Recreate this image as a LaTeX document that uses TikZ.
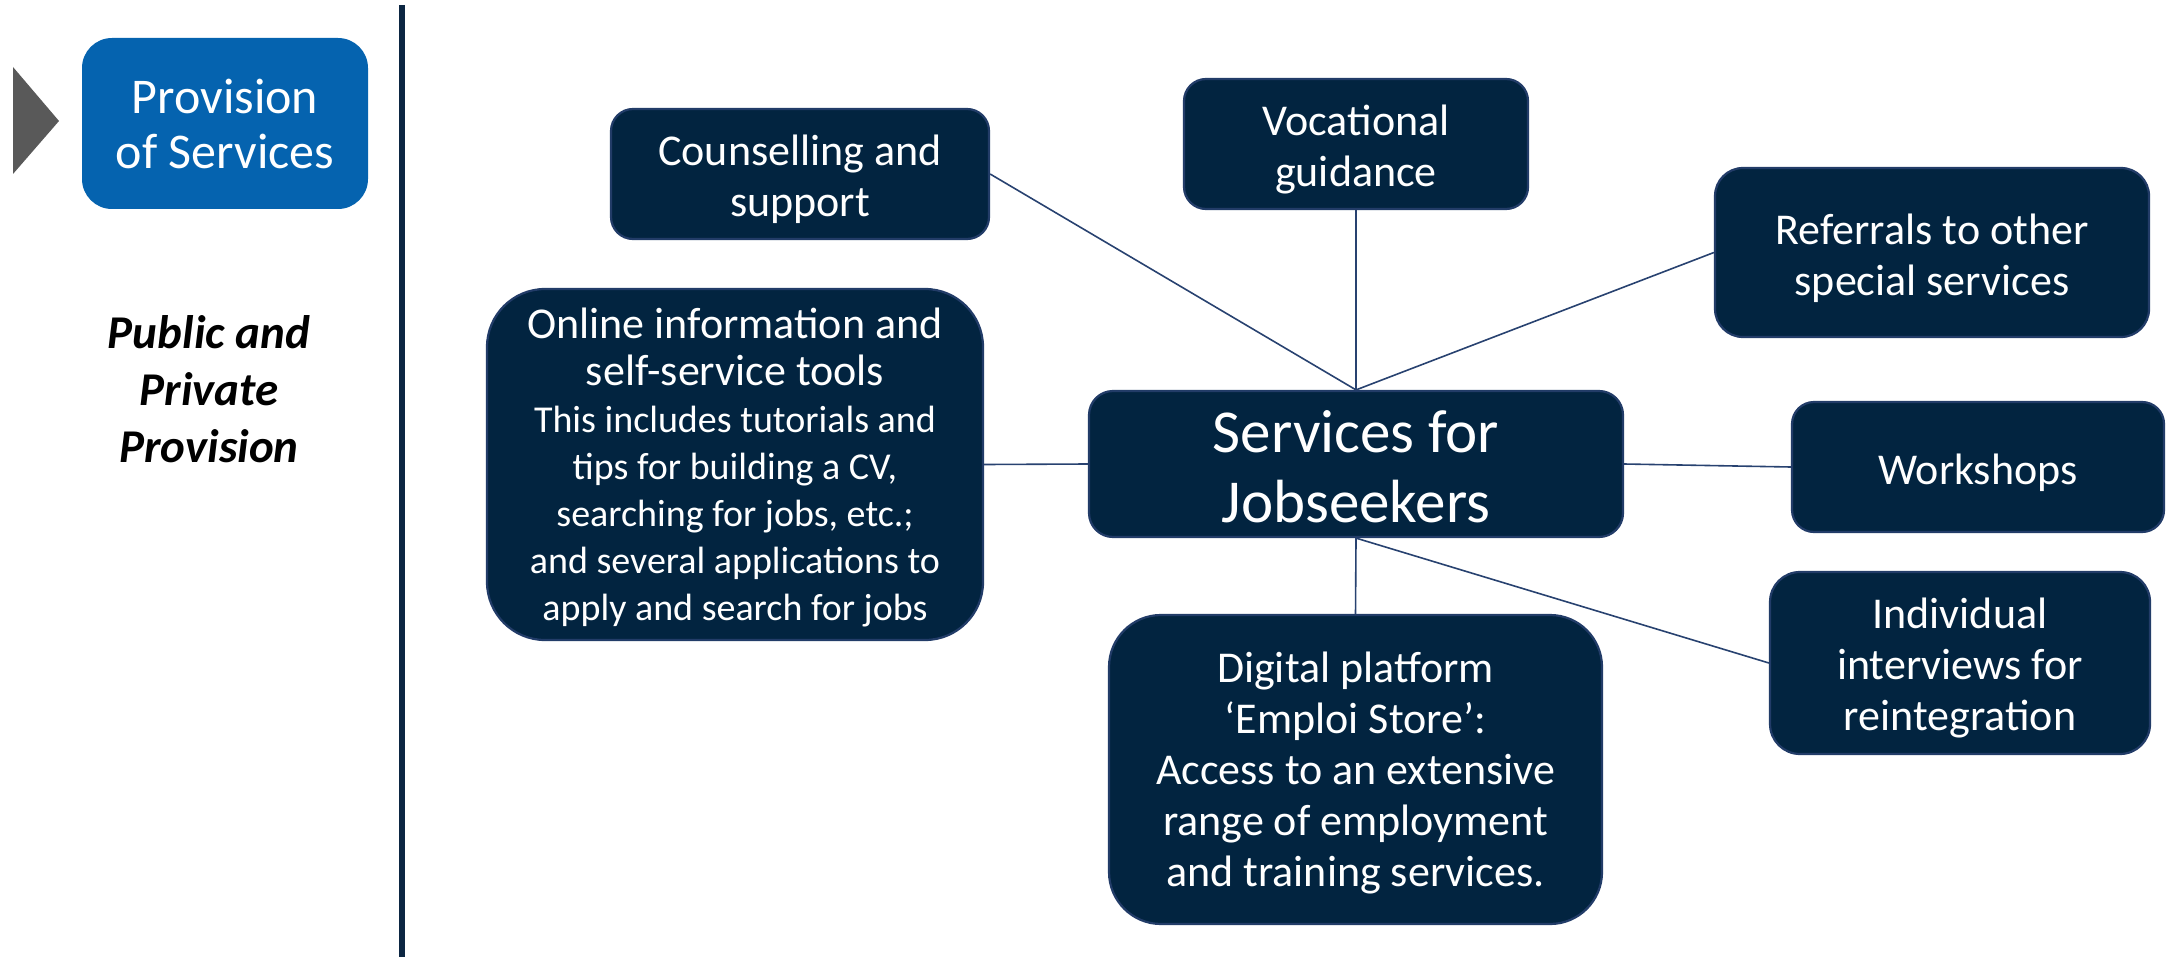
\documentclass[tikz,border=0pt]{standalone}
\usepackage{fontspec}
\setmainfont{Carlito}
\definecolor{navy}{RGB}{2,36,64}
\definecolor{navyedge}{RGB}{34,60,104}
\definecolor{linkc}{RGB}{40,66,112}
\definecolor{provblue}{RGB}{5,99,175}
\definecolor{rule}{RGB}{12,38,66}
\definecolor{pointer}{RGB}{89,89,89}
\begin{document}
\begin{tikzpicture}[x=0.5pt,y=-0.5pt,
  box/.style={draw=navyedge, fill=navy, line width=1.1pt, inner sep=0pt},
  txt/.style={text=white, align=center, inner sep=0pt,
    font=\fontsize{22}{25.5}\selectfont},
  small/.style={font=\fontsize{19}{23.5}\selectfont},
  link/.style={draw=linkc, line width=0.8pt}]
\useasboundingbox (0,0) rectangle (2166,957);

% left panel
\fill[pointer] (13,67) -- (59,121) -- (13,174) -- cycle;
\node[fill=provblue, text=white, rounded corners=15pt, align=center,
  inner sep=0pt, minimum width=143pt, minimum height=85.5pt,
  font=\fontsize{25}{27.5}\selectfont] (prov) at (225,123.5)
  {Provision\\of Services};
\node[align=center, inner sep=0pt, font=\fontsize{23.5}{28.5}\selectfont\bfseries\itshape]
  (pp) at (209,389.5) {Public and\\Private\\Provision};
\draw[rule, line width=3pt] (402,5) -- (402,957);

% boxes
\node[box, minimum width=267pt, minimum height=73pt, rounded corners=12pt]
  (hub) at (1356,464) {};
\node[box, minimum width=189pt, minimum height=65pt, rounded corners=11pt]
  (couns) at (800,174) {};
\node[box, minimum width=172pt, minimum height=65pt, rounded corners=11pt]
  (voc) at (1356,144) {};
\node[box, minimum width=217pt, minimum height=84.5pt, rounded corners=14pt]
  (ref) at (1932,252.5) {};
\node[box, minimum width=248pt, minimum height=175.5pt, rounded corners=29pt]
  (online) at (735,464.5) {};
\node[box, minimum width=186pt, minimum height=65pt, rounded corners=11pt]
  (work) at (1978,467) {};
\node[box, minimum width=190pt, minimum height=91pt, rounded corners=15pt]
  (indiv) at (1960,663) {};
\node[box, minimum width=246.5pt, minimum height=154.5pt, rounded corners=26pt]
  (digi) at (1355.5,769.5) {};

% box texts
\node[txt, font=\fontsize{30.5}{35}\selectfont] (hubT) at ([yshift=-1.5pt]hub.center)
  {Services for\\Jobseekers};
\node[txt] (counsT) at ([yshift=-2.8pt]couns.center) {Counselling and\\support};
\node[txt] (vocT) at ([yshift=-2.8pt]voc.center) {Vocational\\guidance};
\node[txt] (refT) at ([yshift=-2.8pt]ref.center) {Referrals to other\\special services};
\node[txt, font=\fontsize{22}{23.5}\selectfont] (onlineT) at ([yshift=-1.5pt]online.center)
  {Online information and\\self-service tools\\
   \fontsize{19}{23.5}\selectfont This includes tutorials and\\
   \fontsize{19}{23.5}\selectfont tips for building a CV,\\
   \fontsize{19}{23.5}\selectfont searching for jobs, etc.;\\
   \fontsize{19}{23.5}\selectfont and several applications to\\
   \fontsize{19}{23.5}\selectfont apply and search for jobs};
\node[txt] (workT) at ([yshift=-2.8pt]work.center) {Workshops};
\node[txt] (indivT) at ([yshift=-2.5pt]indiv.center) {Individual\\interviews for\\reintegration};
\node[txt] (digiT) at ([yshift=-1.5pt]digi.center)
  {Digital platform\\`Emploi Store':\\Access to an extensive\\range of employment\\and training services.};

% connectors
\draw[link] (couns.east) -- (hub.north);
\draw[link] (voc.south) -- (hub.north);
\draw[link] (ref.west) -- (hub.north);
\draw[link] (online.east) -- (hub.west);
\draw[link] (hub.east) -- (work.west);
\draw[link] (hub.south) -- (digi.north);
\draw[link] (hub.south) -- (indiv.west);
\end{tikzpicture}
\end{document}
